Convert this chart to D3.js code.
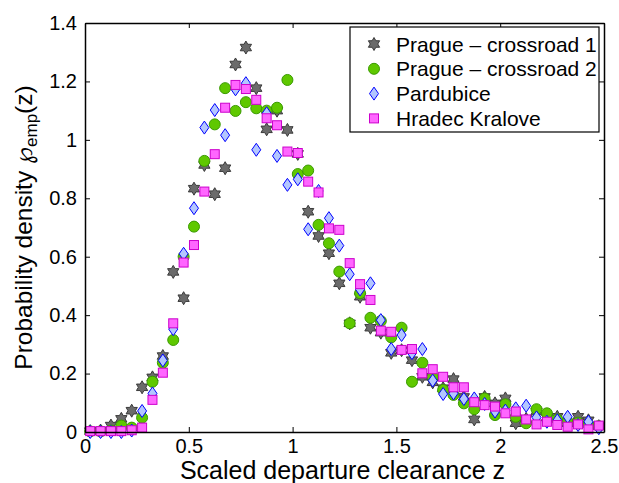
<!DOCTYPE html>
<html>
<head>
<meta charset="utf-8">
<script src="https://cdn.jsdelivr.net/npm/d3@7"></script>
<style>
  body { margin: 0; background: #fff; }
  text { font-family: "Liberation Sans", Arial, sans-serif; fill: #000; }
</style>
</head>
<body>
<div id="chart"></div>
<script>
// bin centres: 0.025, 0.075, ... 2.475
const binCentres = d3.range(50).map(k => 0.025 + 0.05 * k)

const prague1 = [0.003, 0.005, 0.022, 0.045, 0.073, 0.153, 0.187, 0.26, 0.548, 0.458,
  0.833, 0.914, 0.814, 0.903, 1.258, 1.316, 1.177, 1.036, 1.10, 1.034,
  0.952, 0.754, 0.671, 0.612, 0.509, 0.372, 0.463, 0.357, 0.34, 0.271,
  0.28, 0.246, 0.189, 0.17, 0.15, 0.181, 0.12, 0.043, 0.12, 0.098,
  0.115, 0.03, 0.045, 0.07, 0.05, 0.052, 0.03, 0.052, 0.04, 0.02]

const prague2 = [0.002, 0.002, 0.005, 0.022, 0.015, 0.049, 0.172, 0.237, 0.315, 0.60,
  0.703, 0.928, 1.053, 1.177, 1.099, 1.129, 1.108, 1.10, 1.11, 1.205,
  0.883, 0.895, 0.709, 0.646, 0.549, 0.372, 0.475, 0.391, 0.38, 0.324,
  0.357, 0.172, 0.237, 0.189, 0.144, 0.127, 0.098, 0.078, 0.115, 0.058,
  0.095, 0.052, 0.03, 0.078, 0.064, 0.043, 0.035, 0.032, 0.025, 0.02]

const pardubice = [0.0, 0.0, 0.0, 0.0, 0.005, 0.072, 0.132, 0.245, 0.352, 0.61,
  0.766, 1.042, 1.102, 1.016, 1.173, 1.194, 0.966, 1.091, 0.945, 0.846,
  0.865, 0.694, 0.825, 0.732, 0.638, 0.54, 0.488, 0.509, 0.383, 0.284,
  0.332, 0.27, 0.284, 0.176, 0.13, 0.132, 0.113, 0.115, 0.096, 0.07,
  0.073, 0.081, 0.09, 0.05, 0.035, 0.04, 0.052, 0.024, 0.035, 0.013]

const hradec = [0.003, 0.003, 0.003, 0.003, 0.006, 0.015, 0.11, 0.203, 0.372, 0.58,
  0.64, 0.823, 0.951, 1.11, 1.188, 1.174, 1.137, 1.074, 1.05, 0.96,
  0.955, 0.857, 0.82, 0.697, 0.692, 0.578, 0.506, 0.452, 0.347, 0.343,
  0.281, 0.284, 0.201, 0.215, 0.189, 0.153, 0.153, 0.102, 0.092, 0.087,
  0.064, 0.07, 0.043, 0.026, 0.035, 0.024, 0.018, 0.026, 0.009, 0.022]

const seriesNames = ["Prague \u2013 crossroad 1", "Prague \u2013 crossroad 2", "Pardubice", "Hradec Kralove"]
const xTicks = [0, 0.5, 1, 1.5, 2, 2.5]
const yTicks = [0, 0.2, 0.4, 0.6, 0.8, 1, 1.2, 1.4]

const W = 619, H = 483
const plot = {left: 85, right: 604, top: 23, bottom: 432}

const svg = d3.select("#chart").append("svg")
  .attr("width", W).attr("height", H)

const x = d3.scaleLinear().domain([0, 2.5]).range([plot.left, plot.right])
const y = d3.scaleLinear().domain([0, 1.4]).range([plot.bottom, plot.top])

// six pointed star (matlab 'h' marker)
function hexagram(R) {
  const r = R / Math.sqrt(3)
  const pts = d3.range(12).map(i => {
    const a = -Math.PI / 2 + i * Math.PI / 6
    const rr = i % 2 === 0 ? R : r
    return [rr * Math.cos(a), rr * Math.sin(a)]
  })
  return "M" + pts.map(p => p.join(",")).join("L") + "Z"
}

const markers = [
  {data: prague1, draw: g => g.append("path").attr("d", hexagram(6.5)), fill: "#6b6b6b", stroke: "#3a3a3a"},
  {data: prague2, draw: g => g.append("circle").attr("r", 5.5), fill: "#5fc800", stroke: "#3a9a00"},
  {data: pardubice, draw: g => g.append("path").attr("d", "M0,-6.5L4.5,0L0,6.5L-4.5,0Z"), fill: "#b3c6ff", stroke: "#0000ff"},
  {data: hradec, draw: g => g.append("rect").attr("x", -4.5).attr("y", -4.5).attr("width", 9).attr("height", 9), fill: "#ff66ff", stroke: "#cc00cc"}
]

// points
const pointsG = svg.append("g").attr("id", "points")
markers.forEach(function(m) {
  const grp = pointsG.append("g")
  m.data.forEach(function(v, i) {
    const g = grp.append("g").attr("transform", "translate(" + x(binCentres[i]) + "," + y(v) + ")")
    m.draw(g).attr("fill", m.fill).attr("stroke", m.stroke).attr("stroke-width", 1)
  })
})

// axes box with inward ticks on all sides
const axG = svg.append("g").attr("id", "axes")
const tickLen = 5
axG.append("g").attr("transform", "translate(0," + plot.bottom + ")")
  .call(d3.axisBottom(x).tickValues(xTicks).tickSizeInner(-tickLen).tickSizeOuter(0).tickPadding(7).tickFormat(d3.format("")))
axG.append("g").attr("transform", "translate(0," + plot.top + ")")
  .call(d3.axisTop(x).tickValues(xTicks).tickSizeInner(-tickLen).tickSizeOuter(0).tickFormat(""))
axG.append("g").attr("transform", "translate(" + plot.left + ",0)")
  .call(d3.axisLeft(y).tickValues(yTicks).tickSizeInner(-tickLen).tickSizeOuter(0).tickPadding(8).tickFormat(d3.format("")))
axG.append("g").attr("transform", "translate(" + plot.right + ",0)")
  .call(d3.axisRight(y).tickValues(yTicks).tickSizeInner(-tickLen).tickSizeOuter(0).tickFormat(""))

axG.selectAll(".domain").attr("stroke", "#000").attr("stroke-width", 1.5)
axG.selectAll(".tick line").attr("stroke", "#000").attr("stroke-width", 1)
axG.selectAll(".tick text").style("font-size", "20px").style("font-family", "Liberation Sans, Arial, sans-serif")

// axis labels
svg.append("text")
  .attr("x", (plot.left + plot.right) / 2 - 2).attr("y", 479)
  .attr("text-anchor", "middle")
  .style("font-size", "25px")
  .text("Scaled departure clearance z")

const yl = svg.append("text")
  .attr("transform", "translate(32," + ((plot.top + plot.bottom) / 2) + ") rotate(-90)")
  .attr("text-anchor", "middle")
  .style("font-size", "24.5px")
yl.append("tspan").text("Probability density ")
yl.append("tspan").style("font-family", "DejaVu Sans").text("\u2118")
yl.append("tspan").attr("baseline-shift", "-30%").style("font-size", "17px").text("emp")
yl.append("tspan").attr("baseline-shift", "0").text("(z)")

// legend
const lg = svg.append("g").attr("id", "legend")
lg.append("rect")
  .attr("x", 350).attr("y", 27).attr("width", 249).attr("height", 105)
  .attr("fill", "#fff").attr("stroke", "#000").attr("stroke-width", 1.2)
markers.forEach(function(m, i) {
  const cy = 44 + i * 24.8
  const g = lg.append("g").attr("transform", "translate(374," + cy + ")")
  m.draw(g).attr("fill", m.fill).attr("stroke", m.stroke).attr("stroke-width", 1)
  lg.append("text").attr("x", 396).attr("y", cy + 7.5)
    .style("font-size", "21px")
    .text(seriesNames[i])
})
</script>
</body>
</html>
